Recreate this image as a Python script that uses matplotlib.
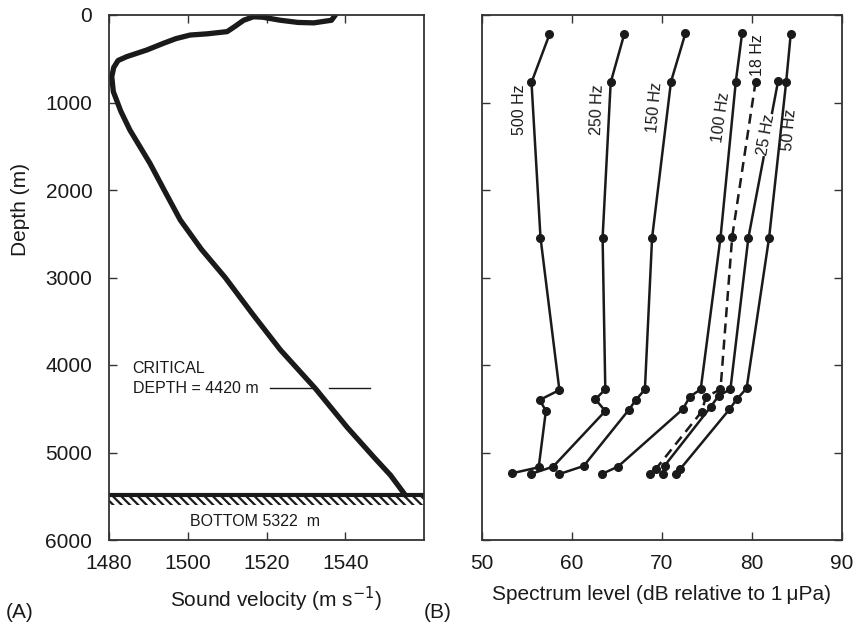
import matplotlib
matplotlib.use("Agg")
import matplotlib.pyplot as plt

plt.rcParams['font.family'] = ['Liberation Sans', 'DejaVu Sans']
plt.rcParams['hatch.linewidth'] = 1.6

# ---- Panel A: sound velocity profile ----
vel = [1537.5, 1536.5, 1532.0, 1528.0, 1523.5, 1519.0, 1516.7, 1514.2, 1512.0, 1510.0,
       1505.0, 1500.6, 1497.0, 1493.8, 1489.6, 1484.5, 1482.3, 1481.2, 1480.7, 1481.1,
       1483.0, 1485.3, 1490.4, 1494.0, 1498.1, 1503.5, 1509.5, 1516.5, 1523.5, 1532.4,
       1540.5, 1547.3, 1551.5, 1555.3]
vel_depth = [0, 60, 90, 85, 60, 25, 20, 60, 130, 190,
             215, 229, 270, 324, 400, 476, 520, 600, 705, 876,
             1100, 1314, 1695, 2000, 2343, 2680, 3000, 3420, 3826, 4268,
             4713, 5055, 5260, 5490]
critical_depth = 4268
critical_seg1 = [1521.0, 1531.8]
critical_seg2 = [1535.8, 1546.4]
bottom_depth = 5490

# ---- Panel B: spectrum level vs depth ----
f500_db = [57.5, 55.5, 56.5, 58.6, 56.4, 57.1, 56.3, 53.3]
f500_d = [221, 770, 2545, 4286, 4400, 4522, 5169, 5238]
f250_db = [65.8, 64.3, 63.4, 63.7, 62.6, 63.7, 57.9, 55.4]
f250_d = [221, 770, 2545, 4278, 4392, 4526, 5162, 5246]
f150_db = [72.6, 71.0, 68.9, 68.1, 67.1, 66.3, 61.3, 58.6]
f150_d = [210, 762, 2545, 4278, 4400, 4514, 5154, 5246]
f100_db = [78.9, 78.2, 76.5, 74.3, 73.1, 72.3, 65.1, 63.3]
f100_d = [210, 762, 2545, 4278, 4362, 4506, 5162, 5246]
f18_db = [80.4, 77.8, 76.5, 74.9, 74.4, 69.3, 68.7]
f18_d = [762, 2533, 4278, 4362, 4534, 5190, 5246]
f25_db = [82.9, 79.6, 77.6, 76.3, 75.4, 70.3, 70.1]
f25_d = [754, 2545, 4278, 4350, 4480, 5150, 5246]
f50_db = [84.3, 83.8, 81.9, 79.4, 78.3, 77.5, 72.0, 71.6]
f50_d = [221, 762, 2545, 4267, 4392, 4506, 5192, 5246]

fig = plt.figure(figsize=(8.54, 6.30), dpi=100)
axA = fig.add_axes([109/854, 1-540/630, (424-109)/854, (540-15)/630])
axB = fig.add_axes([482/854, 1-540/630, (842-482)/854, (540-15)/630])

ink = '#1a1a1a'
spine_c = '#333333'
for ax in (axA, axB):
    for s in ax.spines.values():
        s.set_color(spine_c)
        s.set_linewidth(1.3)

# Panel A
axA.plot(vel, vel_depth, color=ink, lw=3.8, solid_capstyle='round', solid_joinstyle='round')
axA.plot(critical_seg1, [critical_depth]*2, color=ink, lw=1.0)
axA.plot(critical_seg2, [critical_depth]*2, color=ink, lw=1.0)
axA.axhline(bottom_depth, color=ink, lw=3.0)
axA.axhspan(bottom_depth, bottom_depth + 110, facecolor='none', edgecolor=ink,
            hatch='\\\\\\\\', lw=0)
axA.text(1486, 4040, 'CRITICAL', fontsize=11.5, va='center', ha='left', color=ink)
axA.text(1486, 4268, 'DEPTH = 4420 m', fontsize=11.5, va='center', ha='left', color=ink)
axA.text(1517, 5785, 'BOTTOM 5322  m', fontsize=11.5, va='center', ha='center', color=ink)
axA.set_xlim(1480, 1560)
axA.set_ylim(6000, 0)
axA.set_xticks([1480, 1500, 1520, 1540])
axA.set_yticks([0, 1000, 2000, 3000, 4000, 5000, 6000])
axA.tick_params(direction='in', length=6, width=1, colors=spine_c, labelcolor=ink,
                labelsize=15, top=True, right=False, pad=10)
axA.tick_params(axis='y', pad=12)
axA.set_xlabel('Sound velocity (m s$^{-1}$)', fontsize=15, color=ink)
axA.xaxis.set_label_coords(0.53, -0.085)
axA.set_ylabel('Depth (m)', fontsize=15, color=ink)
axA.yaxis.set_label_coords(-0.25, 0.63)

# Panel B
kw = dict(color=ink, lw=1.8, marker='o', ms=5.5)
axB.plot(f500_db, f500_d, **kw)
axB.plot(f250_db, f250_d, **kw)
axB.plot(f150_db, f150_d, **kw)
axB.plot(f100_db, f100_d, **kw)
axB.plot(f25_db, f25_d, **kw)
axB.plot(f50_db, f50_d, **kw)
axB.plot(f18_db, f18_d, color=ink, lw=1.8, ls=(0, (4, 2.5)), marker='o', ms=5.5)

lab_kw = dict(fontsize=11.5, ha='center', va='center', color=ink)
axB.text(54.2, 1085, '500 Hz', rotation=90, **lab_kw)
axB.text(62.8, 1085, '250 Hz', rotation=88, **lab_kw)
axB.text(69.2, 1060, '150 Hz', rotation=85, **lab_kw)
axB.text(76.6, 1175, '100 Hz', rotation=82, **lab_kw)
axB.text(80.6, 460, '18 Hz', rotation=90, **lab_kw)
axB.text(81.6, 1370, '25 Hz', rotation=80,
         bbox=dict(facecolor='white', edgecolor='none', pad=0.5), **lab_kw)
axB.text(84.1, 1310, '50 Hz', rotation=85, **lab_kw)

axB.set_xlim(50, 90)
axB.set_ylim(6000, 0)
axB.set_xticks([50, 60, 70, 80, 90])
axB.set_yticks([0, 1000, 2000, 3000, 4000, 5000, 6000])
axB.tick_params(direction='in', length=6, width=1, colors=spine_c, labelcolor=ink,
                labelsize=15, top=True, right=True, labelleft=False, pad=10)
axB.set_xlabel('Spectrum level (dB relative to 1\u2009\u03bcPa)', fontsize=15, color=ink)
axB.xaxis.set_label_coords(0.5, -0.085)

fig.text(20/854, 1-613/630, '(A)', fontsize=15, ha='center', va='center', color=ink)
fig.text(438/854, 1-613/630, '(B)', fontsize=15, ha='center', va='center', color=ink)

fig.savefig('out.png', dpi=100)
